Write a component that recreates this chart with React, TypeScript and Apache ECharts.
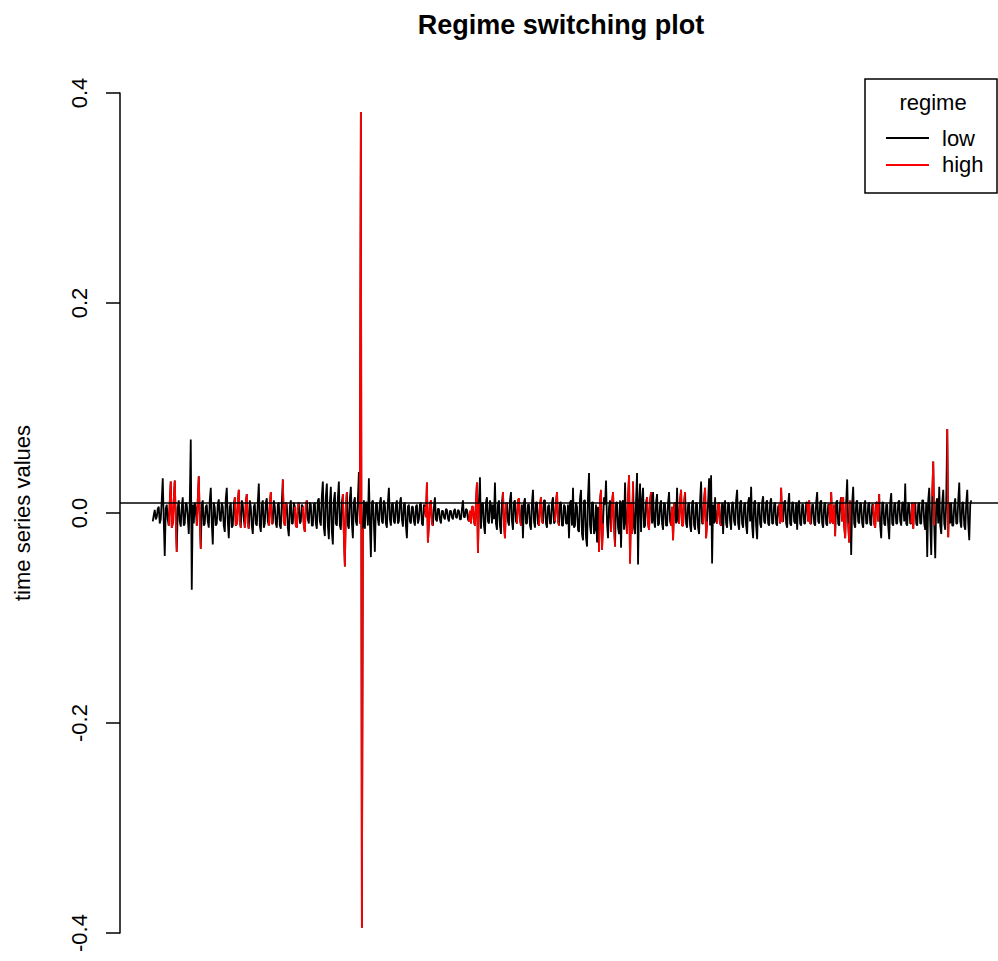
import React, { useEffect, useRef } from "react";
import * as echarts from "echarts";

const values: number[] = [
  -.008, -.002, .003, -.006, -.004, .004, .006, -.010, -.006, .012, .033, -.008, -.041, .004, .008, -.006, -.012, .010, .030, -.014,
  -.010, .012, .031, -.006, -.037, .005, .012, -.008, -.013, .006, .015, -.012, -.010, .010, .008, -.004, -.020, .010, .070, -.073,
  .008, -.010, .010, .004, -.012, .012, .035, -.006, -.034, .008, .012, -.012, -.010, .006, .008, -.008, -.014, .012, .024, -.010,
  -.030, .010, .005, -.012, -.010, .008, .013, -.006, -.008, .010, .006, -.012, -.018, .014, .024, -.008, -.024, .006, .010, -.014,
  -.012, .008, .015, -.012, -.010, .010, .022, -.008, -.014, .012, .008, -.006, -.014, .010, .018, -.010, -.015, .012, .006, -.012,
  -.020, .006, .009, -.010, -.012, .010, .028, -.012, -.018, .008, .012, -.014, -.010, .010, .014, -.008, -.012, .008, .020, -.010,
  -.010, .012, .006, -.010, -.014, .008, .010, -.012, -.015, .010, .032, -.008, -.012, .010, .008, -.014, -.022, .006, .012, -.010,
  -.010, .010, .006, -.012, -.014, .006, .010, -.010, -.008, .008, .006, -.012, -.018, .008, .012, -.006, -.010, .010, .008, -.012,
  -.012, .008, .010, -.010, -.015, .012, .014, -.008, -.012, .016, .030, -.014, -.022, .016, .028, -.012, -.025, .010, .025, -.018,
  -.030, .012, .020, -.010, -.012, .014, .030, -.012, -.016, .010, .018, -.020, -.051, .006, .020, -.012, -.015, .014, .025, -.010,
  -.024, .010, .015, -.008, -.012, .012, .039, -.010, .382, -.395, -.015, .012, -.015, .010, .010, -.012, .033, -.008, -.042, .010,
  .012, -.010, -.037, .008, .010, -.006, -.012, .010, .015, -.008, -.010, .012, .008, -.010, -.014, .010, .024, -.006, -.012, .008,
  .010, -.008, -.010, .008, .012, -.010, -.008, .010, .015, -.006, -.013, .008, .010, -.012, -.024, .006, .008, -.008, -.010, .006,
  .006, -.008, -.012, .006, .008, -.010, -.006, .008, .010, -.010, -.012, .008, .006, -.004, .029, -.028, -.010, .008, .012, -.010,
  -.012, .006, .015, -.006, -.008, .004, .004, -.006, -.010, .002, .002, -.004, -.006, .004, .003, -.005, -.008, .002, .002, -.004,
  -.006, .002, .004, -.004, -.005, .003, .002, -.006, -.006, .004, .012, -.004, -.004, .004, .003, -.006, -.008, .002, -.010, .006,
  .006, -.008, -.012, .010, .029, -.038, .010, .034, -.015, .008, .010, -.012, -.020, .010, .015, -.008, -.010, .012, .008, -.010,
  .008, -.006, .029, -.010, -.016, .008, .012, -.012, -.020, .010, .020, -.010, -.024, .008, .010, -.008, -.012, .012, .020, -.008,
  -.016, .010, .012, -.008, -.010, .012, .014, -.006, -.012, .008, -.024, .010, .014, -.010, -.010, .008, .008, -.012, -.016, .010,
  .022, -.008, -.014, .010, .010, -.010, -.012, .008, .015, -.008, -.010, .012, .012, -.010, -.014, .006, .008, -.010, -.010, .010,
  .015, -.010, -.008, .010, .020, -.008, -.012, .010, .010, -.012, -.012, .008, .006, -.010, -.010, .008, -.024, .010, .012, -.012,
  .024, -.014, -.012, .010, .006, -.016, -.018, .014, .022, -.020, -.026, .012, .012, -.024, -.032, .016, .038, -.012, -.020, .010,
  .010, -.020, -.016, .008, -.028, .006, -.037, .012, .022, -.035, -.010, .015, .008, .031, -.010, -.024, .006, .012, -.018, .010,
  .020, -.012, -.032, .010, .010, -.014, -.020, .012, -.033, .010, .012, -.016, .029, -.010, -.020, .014, .036, -.048, .010, -.020,
  .030, -.014, -.020, .012, .038, -.049, .010, .028, -.018, .012, .024, -.014, -.012, .010, .015, -.010, -.016, .012, .020, -.010,
  .020, -.008, -.014, .010, .018, -.012, -.010, .008, .012, -.010, -.016, .010, .008, -.012, -.012, .010, .020, -.008, -.012, .006,
  -.026, .008, .010, -.010, .024, -.008, -.010, .012, .022, -.012, -.012, .010, .020, -.010, -.014, .008, .010, -.012, -.018, .010,
  .012, -.012, -.016, .010, .008, -.014, -.020, .012, .030, -.010, -.010, .012, .024, -.024, -.008, .010, .033, -.012, .036, -.048,
  .008, -.010, .015, -.008, -.010, .008, .010, -.010, -.012, .010, -.020, .008, .012, -.010, -.014, .010, .008, -.008, -.016, .010,
  .010, -.008, -.012, .012, .022, -.010, -.016, .010, .012, -.010, -.014, .008, .010, -.012, -.020, .010, .015, -.008, .025, -.012,
  -.024, .010, .012, -.012, -.025, .008, .010, -.010, -.014, .010, .016, -.008, -.010, .010, .012, -.010, -.012, .010, .014, -.010,
  -.010, .008, .010, -.010, -.012, .006, .008, -.010, .024, -.008, -.008, .010, .012, -.010, -.014, .008, .019, -.010, -.012, .010,
  .010, -.008, -.010, .010, -.016, .008, .012, -.010, -.012, .008, .008, -.010, -.010, .010, .010, -.008, .012, -.010, -.010, .008,
  .008, -.010, -.012, .010, .020, -.008, -.010, .010, .012, -.010, -.014, .008, .010, -.010, -.012, .008, .008, -.010, .020, -.008,
  -.010, .008, -.022, .010, .012, -.010, -.012, .010, .015, -.008, .015, -.012, -.024, .010, .032, -.010, -.028, .012, -.040, .010,
  .025, -.010, -.014, .010, .012, -.008, -.010, .010, .008, -.010, -.014, .008, .012, -.010, -.010, .008, .010, -.010, -.012, .008,
  .008, -.010, -.014, .010, .010, -.008, .018, -.012, -.024, .010, .010, -.010, -.012, .008, .008, -.012, -.025, .010, .019, -.010,
  -.012, .008, .010, -.010, -.010, .010, .012, -.008, -.012, .010, .010, -.008, .028, -.010, -.012, .010, .008, -.010, -.010, .010,
  -.015, .008, .010, -.010, -.012, .008, .010, -.010, -.010, .012, .012, -.010, -.016, .010, -.042, .012, .024, -.010, -.040, .016,
  .049, -.012, -.043, .010, .014, -.010, .025, -.012, -.020, .010, .022, -.010, -.016, .012, .080, -.023, .010, -.010, .010, -.012,
  -.012, .008, .014, -.010, -.010, .012, .029, -.008, -.014, .010, .010, -.012, -.016, .010, .022, -.010, -.026, .008, .012,
];

// Time-index ranges (inclusive) that are drawn in the "high" regime
const highRegimeRuns: [number, number][] = [
  [17, 25], [45, 49], [83, 89], [93, 97], [117, 121], [131, 135], [143, 147], [151, 155],
  [191, 195], [208, 211], [273, 281], [317, 327], [351, 355], [365, 369], [387, 391],
  [403, 407], [447, 451], [459, 463], [475, 481], [495, 499], [519, 523], [527, 533],
  [551, 555], [565, 569], [627, 631], [655, 659], [677, 683], [689, 694], [696, 698],
  [721, 727], [759, 763], [780, 782], [795, 796],
];

const meanLevel = 0.008;
const yMin = -0.4;
const yMax = 0.4;
const yStep = 0.2;
const titleText = "Regime switching plot";
const yLabel = "time series values";
const legendTitle = "regime";
const regimeNames = ["low", "high"];
const regimeColors = ["#000000", "#ff0000"];

const FONT = "'Liberation Sans', Arial, Helvetica, sans-serif";

export default function App() {
  const ref = useRef<HTMLDivElement>(null);

  useEffect(() => {
    if (!ref.current) return;
    const chart = echarts.init(ref.current, null, { renderer: "svg" });
    const n = values.length;
    const pad = 0.04 * (n - 1);
    const inHigh = (t: number) => highRegimeRuns.some(([a, b]) => t >= a && t <= b);
    const lowData = values.map((v, i) => [i + 1, v]);
    const highData = values.map((v, i) => [i + 1, inHigh(i + 1) ? v : "-"]);

    chart.setOption({
      animation: false,
      grid: {
        left: 120,
        top: 93,
        width: 884,
        height: 840,
        containLabel: false,
        outerBoundsMode: "none",
      },
      xAxis: { type: "value", min: 1 - pad, max: n + pad, show: false },
      yAxis: {
        type: "value",
        min: yMin,
        max: yMax,
        interval: yStep,
        splitLine: { show: false },
        axisLine: { show: true, onZero: false, lineStyle: { color: "#000", width: 1.5 } },
        axisTick: { show: true, length: 14, lineStyle: { color: "#000", width: 1.5 } },
        axisLabel: {
          rotate: 90,
          margin: 30,
          fontSize: 22,
          color: "#000",
          fontFamily: FONT,
          formatter: (v: number) => (Math.abs(v) < 1e-9 ? 0 : v).toFixed(1),
        },
      },
      series: [
        {
          name: regimeNames[0],
          type: "line",
          data: lowData,
          symbol: "none",
          lineStyle: { color: regimeColors[0], width: 1.8 },
          z: 2,
          markLine: {
            silent: true,
            symbol: ["none", "none"],
            label: { show: false },
            lineStyle: { color: "#000", type: "solid", width: 1.5 },
            data: [{ yAxis: meanLevel }],
          },
        },
        {
          name: regimeNames[1],
          type: "line",
          data: highData,
          symbol: "none",
          connectNulls: false,
          lineStyle: { color: regimeColors[1], width: 1.8 },
          z: 3,
        },
      ],
      graphic: [
        {
          type: "text",
          x: 561,
          y: 25,
          style: {
            text: titleText,
            fontSize: 27,
            fontWeight: "bold",
            fontFamily: FONT,
            fill: "#000",
            align: "center",
            verticalAlign: "middle",
          },
        },
        {
          type: "text",
          x: 22,
          y: 513,
          rotation: Math.PI / 2,
          style: {
            text: yLabel,
            fontSize: 22,
            fontFamily: FONT,
            fill: "#000",
            align: "center",
            verticalAlign: "middle",
          },
        },
        {
          type: "rect",
          shape: { x: 865, y: 79, width: 132, height: 114 },
          style: { fill: "#fff", stroke: "#000", lineWidth: 1.5 },
          z: 10,
        },
        {
          type: "text",
          x: 933,
          y: 102,
          z: 11,
          style: {
            text: legendTitle,
            fontSize: 22,
            fontFamily: FONT,
            fill: "#000",
            align: "center",
            verticalAlign: "middle",
          },
        },
        ...regimeNames.flatMap((name, k) => [
          {
            type: "line",
            z: 11,
            shape: { x1: 886, y1: 138 + k * 27, x2: 929, y2: 138 + k * 27 },
            style: { stroke: regimeColors[k], lineWidth: 2 },
          },
          {
            type: "text",
            x: 942,
            y: 138 + k * 26,
            z: 11,
            style: {
              text: name,
              fontSize: 22,
              fontFamily: FONT,
              fill: "#000",
              align: "left",
              verticalAlign: "middle",
            },
          },
        ]),
      ],
    });

    return () => chart.dispose();
  }, []);

  return (
    <div
      ref={ref}
      style={{ position: "absolute", left: 0, top: 0, width: 998, height: 961 }}
    />
  );
}
